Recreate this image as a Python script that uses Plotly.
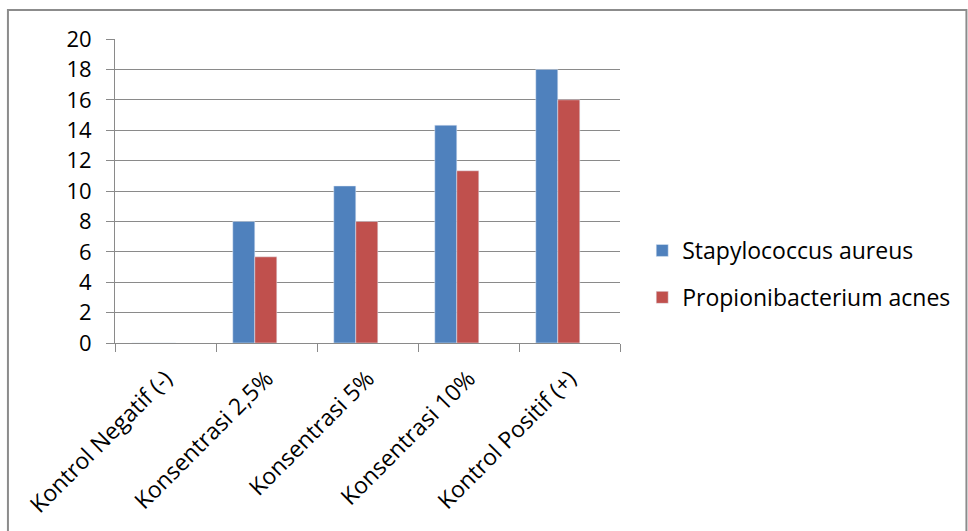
import plotly.graph_objects as go

categories = ["Kontrol Negatif (-)", "Konsentrasi 2,5%", "Konsentrasi 5%",
              "Konsentrasi 10%", "Kontrol Positif (+)"]
s_aureus = [0, 8.0, 10.33, 14.33, 18.0]
p_acnes = [0, 5.67, 8.0, 11.33, 16.0]
y_ticks = [0, 2, 4, 6, 8, 10, 12, 14, 16, 18, 20]

FONT = "'Open Sans', 'Noto Sans', sans-serif"
GRID = "#8a8a8a"
BAR_W = 0.218

fig = go.Figure()
fig.add_trace(go.Bar(name="Stapylococcus aureus", x=categories, y=s_aureus,
                     marker_color="#4F81BD", legendgroup="a",
                     width=BAR_W, offset=-0.334))
fig.add_trace(go.Bar(name="Propionibacterium acnes", x=categories, y=p_acnes,
                     marker_color="#C0504D", legendgroup="b",
                     width=BAR_W, offset=-0.334 + BAR_W))

fig.update_layout(
    width=968, height=531,
    margin=dict(l=115, r=348, t=39, b=188, autoexpand=False),
    paper_bgcolor="white", plot_bgcolor="white",
    barmode="overlay",
    font=dict(family=FONT, size=23, color="#000000"),
    showlegend=True,
    legend=dict(x=1.044, y=0.227, xanchor="left", yanchor="middle",
                traceorder="grouped", tracegroupgap=14,
                font=dict(family=FONT, size=23), itemwidth=30),
    xaxis=dict(showline=True, linecolor=GRID, linewidth=1,
               ticks="outside", ticklen=8, tickcolor=GRID,
               tickson="boundaries", tickangle=-45, automargin=False,
               ticklabelstandoff=12,
               tickfont=dict(family=FONT, size=23)),
    yaxis=dict(range=[0, 20], tickvals=y_ticks, showgrid=True,
               gridcolor=GRID, gridwidth=1, showline=True, linecolor=GRID,
               ticks="outside", ticklen=8, tickcolor=GRID, zeroline=False,
               ticklabelstandoff=10, automargin=False,
               tickfont=dict(family=FONT, size=22)),
    shapes=[dict(type="rect", xref="paper", yref="paper",
                 x0=-0.212, x1=1.686, y0=-0.7, y1=1.095,
                 line=dict(color="#8c8c8c", width=2))],
)

fig.write_html("out.html")
